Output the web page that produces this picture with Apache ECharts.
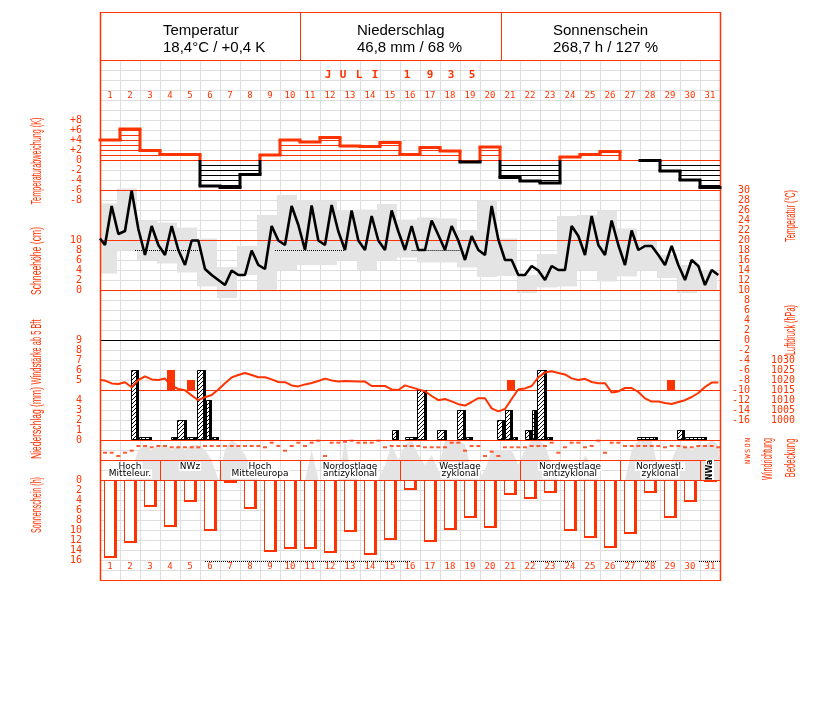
<!DOCTYPE html>
<html><head><meta charset="utf-8">
<script src="https://cdn.jsdelivr.net/npm/echarts@6/dist/echarts.min.js"></script>
<style>html,body{margin:0;padding:0;background:#fff}#c{width:827px;height:702px}</style>
</head><body><div id="c"></div><script>
// ---------------- DATA ----------------
const dayLabels = Array.from({length:31},(_,i)=>String(i+1));
const headerTitles = ['Temperatur','Niederschlag','Sonnenschein'];
const headerValues = ['18,4°C / +0,4 K','46,8 mm / 68 %','268,7 h / 127 %'];
const monthTitle = ['J','U','L','I','1','9','3','5'];
// daily temperature anomaly (K)
const tempAnomaly = [4.0,6.2,1.9,1.1,1.1,-5.2,-5.5,-2.9,1.0,4.0,3.6,4.5,2.8,2.7,3.5,1.1,2.5,1.8,-0.4,2.6,-3.5,-4.2,-4.6,0.6,1.1,1.7,0.0,-0.1,-2.2,-4.0,-5.5];
// temperature readings 7h,14h,21h (°C), plus value at start of month
const tempStart = 20.3;
const tempReadings = [
 19.0,26.8,21.2, 21.8,29.9,22.2, 17.0,22.8,19.0, 17.0,22.8,18.0, 15.0,19.9,19.9,
 14.2,13.0,12.0, 11.0,13.9,13.0, 13.0,17.9,15.0, 14.2,22.8,19.9, 19.0,26.8,23.0,
 18.0,26.9,19.9, 19.0,27.0,21.7, 18.0,25.9,19.9, 18.0,24.8,19.9, 18.0,25.9,21.7,
 18.0,22.8,18.0, 18.0,23.9,21.0, 18.0,22.8,19.9, 16.0,20.8,18.0, 17.0,26.8,20.1,
 16.0,16.0,13.0, 13.0,14.8,13.9, 12.0,14.8,14.0, 14.0,22.8,20.8, 17.0,24.8,19.0,
 17.0,23.9,19.0, 15.0,21.9,18.0, 18.8,18.8,17.0, 15.0,18.8,15.0, 12.0,16.0,14.8,
 11.0,14.0,13.0];
const tempMax = [27.3,30.3,23.9,23.5,22.5,20.3,14.6,18.8,25.0,29.0,28.0,27.9,26.0,26.1,27.2,24.1,24.5,24.3,22.0,27.9,20.3,13.0,17.2,24.8,25.0,25.9,22.3,20.0,17.0,15.0,14.0];
const tempMin = [13.3,18.0,16.0,15.3,13.5,10.7,8.4,13.0,10.0,14.0,15.0,15.0,16.0,14.0,16.0,16.5,15.5,15.5,14.5,12.6,12.8,9.4,10.5,10.7,14.0,11.7,12.7,14.0,12.4,9.4,10.0];
// dotted marks
const tempMarkLevel = 18;
const tempMarkFrom = [1.75,8.75,15.58];
const tempMarkTo   = [5.15,12.25,18.0];
const sunMarkLevel = 16.2;
const sunMarkFrom = [5.25,21.55,25.75,29.95];
const sunMarkTo   = [15.5,23.6,27.8,31.0];
// air pressure readings (hPa)
const pressureStart = 1020;
const pressureReadings = [
 1019.7,1018.3,1018.0, 1018.9,1016.4,1020.0, 1021.8,1020.3,1020.0, 1020.7,1017.0,1015.5, 1014.9,1012.3,1009.9,
 1011.4,1012.5,1015.3, 1018.4,1021.3,1022.5, 1023.5,1022.5,1021.4, 1021.4,1020.3,1019.0, 1018.9,1017.3,1016.8,
 1017.8,1018.5,1019.5, 1020.7,1019.8,1019.3, 1019.5,1019.4,1019.3, 1019.2,1017.0,1017.0, 1017.0,1015.3,1015.0,
 1017.3,1016.3,1015.3, 1014.4,1012.0,1009.9, 1010.5,1009.3,1007.9, 1007.2,1009.0,1010.9, 1010.9,1005.8,1004.3,
 1005.5,1010.5,1015.4, 1015.8,1017.0,1021.3, 1023.8,1024.4,1023.5, 1022.8,1020.8,1020.0, 1020.6,1019.0,1018.4,
 1018.4,1013.8,1014.3, 1016.0,1016.0,1014.0, 1010.8,1009.2,1009.2, 1008.5,1008.0,1009.0, 1009.9,1011.5,1013.5,
 1016.5,1018.7,1018.7];
// wind force >= 5 Bft
const windBft = [null,null,null,6,5,null,null,null,null,null,null,null,null,null,null,null,null,null,null,null,5,null,null,null,null,null,null,null,5,null,null];
// precipitation (mm): periods within the days
const precipFrom = [1.55,1.95,3.55,3.85,4.35,4.85,5.3,5.6,14.58,15.25,15.83,16.87,17.83,18.28,19.87,20.25,20.67,21.27,21.58,21.87,22.33,26.87,28.87,29.25];
const precipTo   = [1.95,2.6,3.85,4.35,4.85,5.3,5.6,5.95,14.95,15.83,16.33,17.33,18.28,18.63,20.25,20.67,20.92,21.58,21.87,22.33,22.67,27.92,29.25,30.33];
const precipMm   = [7,0.3,0.3,2,0.3,7,4,0.3,1,0.3,5,1,3,0.3,2,3,0.3,1,3,7,0.3,0.3,1,0.3];
// wind direction readings (degrees) 7h,14h,21h
const windDir = [
 208,208,262, 208,175,98, 98,119,98, 98,119,119, 119,119,119,
 98,98,98, 98,98,98, 98,98,98, 119,44,98, 175,98,44,
 98,44,11, 262,44,44, 28,11,44, 44,44,11, 119,98,98,
 98,98,98, 119,119,119, 119,44,44, 175,98,98, 262,191,262,
 119,119,119, 119,98,98, 98,44,208, 119,44,44, 119,98,11,
 208,44,44, 98,98,98, 98,98,98, 119,98,98, 119,119,98,
 98,98,119];
// cloud cover readings (octas) 7h,14h,21h
const cloudReadings = [
 0,0,0, 0,2,6, 7,6,7, 7,6,7, 6,7,7,
 6,4,0, 6,8,7, 5,2,0, 0,0,0, 0,0,0,
 0,6,0, 0,0,0, 8,1,0, 0,0,0, 3,7,4,
 7,8,5, 3,5,2, 8,8,8, 7,2,0, 2,6,6,
 6,6,3, 6,8,8, 7,3,0, 0,0,0, 5,3,0,
 0,0,0, 0,6,8, 8,8,2, 0,4,7, 7,6,7,
 7,8,7];
// weather types
const wlStart = [1,4,7,11,16,22,27,31];
const wlEnd   = [3,6,10,15,21,26,30,31];
const wlName  = ['Hoch\nMitteleur.','NWz','Hoch\nMitteleuropa','Nordostlage\nantizyklonal','Westlage\nzyklonal','Nordwestlage\nantizyklonal','Nordwestl.\nzyklonal','NWa'];
// sunshine (h)
const sunHours = [15.6,12.6,5.4,9.4,4.4,10.1,0.6,5.8,14.4,13.7,13.7,14.6,10.4,15.0,11.9,2.0,12.4,9.9,7.6,9.6,3.0,3.8,2.6,10.2,11.6,13.6,10.8,2.6,7.6,4.3,0.2];
const windDirLetters = ['N','O','S','W','N'];
const windDirTicks = [0,90,180,270,360];

// ---------------- STYLE / HELPERS ----------------
const RED = '#ff3300', GRID = '#dedede', GRAYF = '#e4e4e4';
const MONO = '"DejaVu Sans Mono", monospace';
const readOffsets = [0.25,0.583,0.917];
function readingSeries(start, arr){
  const out = start==null ? [] : [[0,start]];
  arr.forEach((v,i)=>out.push([Math.floor(i/3)+readOffsets[i%3], v]));
  return out;
}
const hatchCanvas = (function(){
  const c=document.createElement('canvas'); c.width=4; c.height=4;
  const g=c.getContext('2d'); g.fillStyle='#fff'; g.fillRect(0,0,4,4);
  g.fillStyle='#000'; for(let i=0;i<4;i++) g.fillRect(3-i,i,1,1);
  return c;
})();
const mctx = document.createElement('canvas').getContext('2d');
function fitScale(text, font, len){ mctx.font=font; return len/mctx.measureText(text).width; }

// ---------------- LAYOUT ----------------
const L=100, W=620;
const gridDefs = [
 [60,520],   //0 background
 [120,80],   //1 anomaly
 [190,230],  //2 temperature
 [240,50],   //3 snow
 [340,50],   //4 wind force
 [370,70],   //5 precipitation
 [360,60],   //6 pressure
 [440,40],   //7 cloud
 [440,22],   //8 wind direction
 [460,20],   //9 weather type
 [480,80],   //10 sunshine
 [80,10],    //11 top day labels
 [551,10]    //12 bottom day labels
];
const grid = gridDefs.map(g=>({left:L,width:W,top:g[0],height:g[1],outerBoundsMode:'none',containLabel:false}));
const hiddenX = gi=>({type:'value',gridIndex:gi,min:0,max:31,show:false});
const xAxis = gridDefs.map((g,gi)=>hiddenX(gi));
xAxis[0] = {type:'value',gridIndex:0,min:0,max:31,interval:1,axisLine:{show:false},axisTick:{show:false},axisLabel:{show:false},splitLine:{show:true,lineStyle:{color:GRID,width:1}}};
const dayLabelAxis = gi=>({type:'category',gridIndex:gi,data:dayLabels,position:'bottom',axisLine:{show:false},axisTick:{show:false},splitLine:{show:false},
  axisLabel:{interval:0,margin:1,color:RED,fontSize:9,fontFamily:MONO,hideOverlap:false}});
xAxis[11]=dayLabelAxis(11); xAxis[12]=dayLabelAxis(12);

const lab = (extra)=>Object.assign({color:RED,fontSize:10,fontFamily:MONO,showMinLabel:true,showMaxLabel:true,hideOverlap:false,formatter:v=>String(v)},extra);
const yBase = (gi,min,max,extra)=>Object.assign({type:'value',gridIndex:gi,min,max,axisLine:{show:false},axisTick:{show:false},splitLine:{show:false}},extra);
const yAxis = [
 yBase(0,0,52,{interval:1,axisLabel:{show:false},splitLine:{show:true,lineStyle:{color:GRID,width:1}}}),
 yBase(1,-8,8,{interval:2,position:'left',axisLabel:lab({margin:18,formatter:v=>v>0?'+'+v:String(v)})}),
 yBase(2,-16,30,{interval:2,position:'right',axisLabel:lab({margin:30,align:'right'})}),
 yBase(3,0,10,{interval:2,position:'left',axisLabel:lab({margin:18})}),
 yBase(4,4,9,{interval:1,position:'left',axisLabel:lab({margin:18,formatter:v=>v>=5?String(v):''})}),
 yBase(5,0,7,{interval:1,position:'left',axisLabel:lab({margin:18,formatter:v=>v<=4?String(v):''})}),
 yBase(6,1000,1030,{interval:5,position:'right',axisLabel:lab({margin:75,align:'right'})}),
 yBase(7,0,8,{show:false}),
 yBase(8,0,360,{show:false,inverse:true}),
 yBase(9,0,1,{show:false}),
 yBase(10,0,16,{interval:2,inverse:true,position:'left',axisLabel:lab({margin:18})}),
 yBase(11,0,1,{show:false}),
 yBase(12,0,1,{show:false})
];

// ---------------- SERIES ----------------
const series = [];
// temperature anomaly
series.push({type:'custom',xAxisIndex:1,yAxisIndex:1,z:4,data:tempAnomaly.map((v,i)=>[i+1,v]),
 renderItem(params,api){
  const i=params.dataIndex, v=tempAnomaly[i], prev=i>0?tempAnomaly[i-1]:null;
  const xa=api.coord([i,0])[0], xb=api.coord([i+1,0])[0];
  const y0=api.coord([0,0])[1], yv=api.coord([0,v])[1];
  const col = v>=0?RED:'#000';
  const ch=[];
  const n=Math.floor(Math.abs(v)+1e-6);
  for(let k=1;k<=n;k++){const yk=Math.round(api.coord([0,k*Math.sign(v)])[1])+0.5;
    ch.push({type:'line',shape:{x1:xa,y1:yk,x2:xb,y2:yk},style:{stroke:col,lineWidth:1}});}
  if(v!==0) ch.push({type:'line',shape:{x1:xa-1.5,y1:yv,x2:xb+1.5,y2:yv},style:{stroke:col,lineWidth:3}});
  if(prev!==null){
    const yp=api.coord([0,prev])[1];
    if(prev*v<0){
      ch.push({type:'line',shape:{x1:xa,y1:yp,x2:xa,y2:y0},style:{stroke:prev>=0?RED:'#000',lineWidth:3}});
      ch.push({type:'line',shape:{x1:xa,y1:y0,x2:xa,y2:yv},style:{stroke:col,lineWidth:3}});
    } else {
      const c=(v+prev)>=0?RED:'#000';
      ch.push({type:'line',shape:{x1:xa,y1:yp,x2:xa,y2:yv},style:{stroke:c,lineWidth:3}});
    }
  }
  return {type:'group',children:ch};
 }});
// temperature range boxes
series.push({type:'custom',xAxisIndex:2,yAxisIndex:2,z:1,data:tempMax.map((v,i)=>[i+1,v,tempMin[i]]),
 renderItem(params,api){
  const d=api.value(0), cs=params.coordSys;
  let xa=api.coord([d-1-0.15,0])[0], xb=api.coord([d-0.15,0])[0];
  xa=Math.max(xa,cs.x); xb=Math.min(xb,cs.x+cs.width);
  const ya=api.coord([0,api.value(1)])[1], yb=api.coord([0,api.value(2)])[1];
  return {type:'rect',shape:{x:xa,y:ya,width:xb-xa,height:yb-ya},style:{fill:GRAYF}};
 }});
// dotted marks in temperature panel
series.push({type:'custom',xAxisIndex:2,yAxisIndex:2,z:3,data:tempMarkFrom.map((v,i)=>[v,tempMarkTo[i],tempMarkLevel]),
 renderItem(params,api){
  const a=api.coord([api.value(0),api.value(2)]), b=api.coord([api.value(1),api.value(2)]);
  const y=Math.round(a[1])+0.5;
  return {type:'line',shape:{x1:a[0],y1:y,x2:b[0],y2:y},style:{stroke:'#000',lineWidth:1,lineDash:[1,1]}};
 }});
// temperature line
series.push({type:'line',xAxisIndex:2,yAxisIndex:2,z:6,data:readingSeries(tempStart,tempReadings),showSymbol:false,clip:false,
  lineStyle:{color:'#000',width:2.6},itemStyle:{color:'#000'}});
// pressure
series.push({type:'line',xAxisIndex:6,yAxisIndex:6,z:6,data:readingSeries(pressureStart,pressureReadings),showSymbol:false,clip:false,
  lineStyle:{color:RED,width:2},itemStyle:{color:RED}});
// wind force bars
series.push({type:'custom',xAxisIndex:4,yAxisIndex:4,z:5,data:windBft.map((v,i)=>[i+1,v==null?NaN:v]),
 renderItem(params,api){
  const d=api.value(0), v=api.value(1); if(isNaN(v)) return null;
  const a=api.coord([d-1+0.35,v]), b=api.coord([d-1+0.75,4]);
  return {type:'rect',shape:{x:a[0],y:a[1],width:b[0]-a[0],height:b[1]-a[1]},style:{fill:RED}};
 }});
// precipitation bars
series.push({type:'custom',xAxisIndex:5,yAxisIndex:5,z:5,data:precipMm.map((v,i)=>[precipFrom[i],precipTo[i],v]),
 renderItem(params,api){
  const a=api.coord([api.value(0),api.value(2)]), b=api.coord([api.value(1),0]);
  const x0=Math.round(a[0]), x1=Math.round(b[0]), y1=Math.round(a[1]), y0=Math.round(b[1]);
  const h=Math.max(y0-y1,3);
  return {type:'group',children:[
    {type:'rect',shape:{x:x0+0.5,y:y0-h+0.5,width:x1-x0-1,height:h-1},style:{fill:{image:hatchCanvas,repeat:'repeat'},stroke:'#000',lineWidth:1}},
    {type:'rect',shape:{x:x1-3,y:y0-h,width:3,height:h},style:{fill:'#000'}}
  ]};
 }});
// cloud cover area
series.push({type:'line',xAxisIndex:7,yAxisIndex:7,z:1,data:readingSeries(cloudReadings[0],cloudReadings).concat([[31,cloudReadings[cloudReadings.length-1]]]),
  showSymbol:false,clip:true,lineStyle:{width:0,opacity:0},areaStyle:{color:GRAYF,opacity:1},itemStyle:{color:GRAYF}});
// wind direction dots
series.push({type:'scatter',xAxisIndex:8,yAxisIndex:8,z:6,data:readingSeries(null,windDir),symbol:'rect',symbolSize:[4,2],
  itemStyle:{color:RED},silent:true});
// weather type boxes
series.push({type:'custom',xAxisIndex:9,yAxisIndex:9,z:4,data:wlStart.map((s,i)=>[s,wlEnd[i]]),
 renderItem(params,api){
  const i=params.dataIndex;
  const a=api.coord([wlStart[i]-1,1]), b=api.coord([wlEnd[i],0]);
  const ch=[{type:'rect',shape:{x:Math.round(a[0])+0.5,y:Math.round(a[1])+0.5,width:b[0]-a[0],height:b[1]-a[1]},style:{fill:null,stroke:RED,lineWidth:1}}];
  const cx=(a[0]+b[0])/2;
  const lines=wlName[i].split('\n');
  if(wlEnd[i]-wlStart[i]<1){
    ch.push({type:'text',x:cx,y:(a[1]+b[1])/2,rotation:Math.PI/2,style:{text:wlName[i],align:'center',verticalAlign:'middle',font:'bold 8px "DejaVu Sans", sans-serif',fill:'#000',backgroundColor:'#fff'}});
  } else {
    lines.forEach((t,k)=>ch.push({type:'text',x:cx,y:a[1]+6.5+k*7.5,style:{text:t,align:'center',verticalAlign:'middle',font:'9px "DejaVu Sans", sans-serif',fill:'#000',backgroundColor:'#fff',padding:[0,1]}}));
  }
  return {type:'group',children:ch};
 }});
// sunshine bars
series.push({type:'custom',xAxisIndex:10,yAxisIndex:10,z:5,data:sunHours.map((v,i)=>[i+1,v]),
 renderItem(params,api){
  const d=api.value(0), v=api.value(1);
  const a=api.coord([d-1+0.2,0]), b=api.coord([d-1+0.83,v]);
  const x0=Math.round(a[0]), x1=Math.round(b[0]), y0=Math.round(a[1]), y1=Math.round(b[1]);
  const h=Math.max(y1-y0,1);
  if(h<3) return {type:'rect',shape:{x:x0,y:y0,width:x1-x0,height:2},style:{fill:RED}};
  return {type:'group',children:[
    {type:'rect',shape:{x:x0+0.5,y:y0+0.5,width:x1-x0-1,height:h-1},style:{fill:'#fff',stroke:RED,lineWidth:1}},
    {type:'rect',shape:{x:x1-3,y:y0,width:3,height:h},style:{fill:RED}},
    {type:'rect',shape:{x:x0,y:y0+h-2,width:x1-x0,height:2},style:{fill:RED}}
  ]};
 }});
// dotted marks in sunshine panel
series.push({type:'custom',xAxisIndex:10,yAxisIndex:10,z:3,data:sunMarkFrom.map((v,i)=>[v,sunMarkTo[i],sunMarkLevel]),
 renderItem(params,api){
  const a=api.coord([api.value(0),api.value(2)]), b=api.coord([api.value(1),api.value(2)]);
  const y=Math.round(a[1])+0.5;
  return {type:'line',shape:{x1:a[0],y1:y,x2:b[0],y2:y},style:{stroke:'#000',lineWidth:1,lineDash:[1,1]}};
 }});

// ---------------- GRAPHIC (frame, header, titles) ----------------
const G=[];
const hline=(y,col,x1=100,x2=720,w=1)=>G.push({type:'line',z:3,shape:{x1,y1:y+0.5,x2,y2:y+0.5},style:{stroke:col,lineWidth:w}});
const vline=(x,y1,y2,col,w=1)=>G.push({type:'line',z:3,shape:{x1:x+0.5,y1,x2:x+0.5,y2},style:{stroke:col,lineWidth:w}});
G.push({type:'rect',z:2,shape:{x:100,y:12,width:620,height:48},style:{fill:'#fff'}});
[12,60,160,190,240,290,390,440,460,480,580].forEach(y=>hline(y,RED));
hline(340,'#000');
vline(100,12,581,RED,1.5); vline(720,12,581,RED,1.5);
vline(300,12,60,RED); vline(501,12,60,RED);
const hx=[163,357,553];
headerTitles.forEach((t,i)=>{
  G.push({type:'text',z:4,x:hx[i],y:31,style:{text:t,font:'15px "Liberation Sans", Arial, sans-serif',fill:'#000',align:'left',verticalAlign:'middle'}});
  G.push({type:'text',z:4,x:hx[i],y:48,style:{text:headerValues[i],font:'15px "Liberation Sans", Arial, sans-serif',fill:'#000',align:'left',verticalAlign:'middle'}});
});
const mtx=[328,343,359,375,407,430,451,472];
monthTitle.forEach((c,i)=>G.push({type:'text',z:4,x:mtx[i],y:75,style:{text:c,font:'bold 11px '+MONO,fill:RED,align:'center',verticalAlign:'middle'}}));
const TF='14px "Liberation Sans Narrow", "Liberation Sans", sans-serif';
const rot=(t,x,y,len)=>{const s=fitScale(t,TF,len);G.push({type:'text',z:4,x,y,rotation:Math.PI/2,scaleX:s,scaleY:1,style:{text:t,font:TF,fill:RED,align:'center',verticalAlign:'middle'}});};
rot('Temperaturabweichung (K)',37,161,87);
rot('Schneehöhe (cm)',37,261,68);
rot('Windstärke ab 5 Bft',37,352,65);
rot('Niederschlag (mm)',37,423,72);
rot('Sonnenschein (h)',37,505,56);
rot('Temperatur (°C)',791,216,52);
rot('Luftdruck (hPa)',791,330,50);
rot('Windrichtung',768,459,42);
rot('Bedeckung',791,458,39);
windDirLetters.forEach((c,i)=>G.push({type:'text',z:4,x:748,y:440+windDirTicks[i]/360*22,rotation:Math.PI/2,style:{text:c,font:'7px '+MONO,fill:RED,align:'center',verticalAlign:'middle'}}));

const chart=echarts.init(document.getElementById('c'),null,{renderer:'canvas'});
chart.setOption({animation:false,backgroundColor:'#fff',grid,xAxis,yAxis,series,graphic:{elements:G}});
</script></body></html>
